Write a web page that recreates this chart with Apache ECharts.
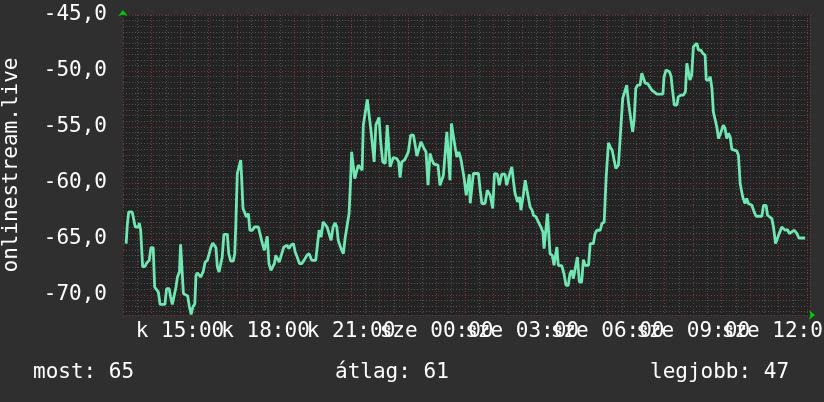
<!DOCTYPE html>
<html>
<head>
<meta charset="utf-8">
<script src="https://cdn.jsdelivr.net/npm/echarts@6/dist/echarts.min.js"></script>
<style>
html,body{margin:0;padding:0;background:#2f2f2f;}
#c{width:824px;height:402px;}
</style>
</head>
<body>
<div id="c"></div>
<script>
// time in hours since midnight of day "k"
var hours = [13.11,13.15,13.20,13.32,13.36,13.43,13.54,13.57,13.62,13.69,13.77,13.83,13.92,13.98,14.06,14.11,14.18,14.24,14.30,14.47,14.53,14.62,14.67,14.73,14.80,14.86,14.91,14.98,15.02,15.09,15.12,15.19,15.27,15.33,15.39,15.45,15.52,15.56,15.61,15.68,15.73,15.82,15.88,15.96,16.03,16.08,16.15,16.20,16.26,16.31,16.37,16.44,16.48,16.54,16.66,16.71,16.78,16.87,16.92,16.96,17.01,17.07,17.13,17.16,17.21,17.28,17.33,17.40,17.45,17.54,17.61,17.75,17.82,17.89,17.96,18.01,18.06,18.12,18.19,18.25,18.31,18.36,18.43,18.48,18.57,18.64,18.71,18.76,18.82,18.89,18.98,19.04,19.11,19.19,19.27,19.35,19.45,19.53,19.57,19.62,19.76,19.82,19.88,19.95,20.02,20.09,20.16,20.23,20.30,20.37,20.44,20.50,20.55,20.65,20.73,20.79,20.86,20.93,20.98,21.02,21.08,21.13,21.20,21.25,21.32,21.39,21.43,21.50,21.57,21.62,21.69,21.75,21.81,21.87,21.92,21.98,22.04,22.11,22.20,22.27,22.33,22.37,22.44,22.48,22.60,22.67,22.72,22.78,22.89,23.01,23.09,23.19,23.25,23.31,23.38,23.45,23.52,23.56,23.63,23.70,23.77,23.84,23.91,24.05,24.12,24.19,24.24,24.31,24.36,24.43,24.47,24.52,24.59,24.65,24.71,24.78,24.85,24.92,24.96,25.04,25.11,25.15,25.18,25.29,25.47,25.53,25.59,25.70,25.78,25.88,25.97,26.03,26.13,26.20,26.29,26.40,26.46,26.55,26.64,26.70,26.75,26.84,26.91,26.96,27.05,27.11,27.16,27.22,27.28,27.35,27.40,27.49,27.57,27.66,27.73,27.77,27.84,27.89,27.95,27.98,28.06,28.12,28.22,28.27,28.39,28.47,28.54,28.62,28.68,28.74,28.80,28.87,28.94,29.01,29.09,29.15,29.21,29.33,29.39,29.50,29.56,29.62,29.74,29.80,29.88,29.95,30.03,30.09,30.16,30.23,30.29,30.38,30.44,30.47,30.53,30.60,30.67,30.73,30.81,30.88,30.93,30.99,31.05,31.14,31.20,31.26,31.32,31.40,31.47,31.55,31.73,31.94,31.98,32.05,32.17,32.23,32.27,32.34,32.43,32.48,32.57,32.66,32.73,32.78,32.85,32.89,32.95,33.01,33.07,33.13,33.19,33.27,33.34,33.42,33.46,33.54,33.60,33.66,33.71,33.77,33.83,33.89,33.96,34.06,34.12,34.18,34.24,34.30,34.36,34.41,34.53,34.59,34.65,34.74,34.82,34.88,34.94,35.06,35.14,35.21,35.41,35.47,35.56,35.61,35.68,35.76,35.82,35.89,35.96,36.02,36.11,36.17,36.23,36.31,36.38,36.46,36.55,36.64,36.71,36.93];
var values = [-65.42,-63.78,-62.59,-62.59,-63.04,-63.94,-63.94,-63.58,-64.23,-67.51,-67.45,-67.16,-66.92,-65.78,-65.78,-69.30,-69.39,-69.75,-70.85,-70.85,-69.45,-69.45,-70.20,-70.85,-70.70,-69.30,-68.41,-67.96,-65.48,-65.48,-69.89,-70.05,-70.10,-71.09,-71.75,-71.09,-70.79,-68.26,-68.05,-68.05,-68.41,-67.87,-67.07,-66.92,-66.26,-65.78,-65.37,-65.48,-65.78,-67.51,-67.96,-67.96,-66.62,-64.59,-64.59,-66.32,-66.98,-66.98,-66.32,-63.58,-59.16,-59.02,-57.97,-59.46,-62.29,-62.38,-63.04,-62.74,-64.23,-64.23,-63.94,-63.94,-64.68,-65.42,-66.02,-66.10,-64.77,-67.21,-67.81,-67.96,-67.21,-66.47,-66.62,-67.07,-66.32,-65.73,-65.73,-65.57,-65.87,-65.57,-65.42,-66.17,-66.62,-67.21,-67.21,-66.92,-66.47,-66.32,-66.17,-66.92,-66.92,-65.57,-64.23,-64.83,-63.49,-63.34,-63.94,-63.78,-65.13,-63.94,-63.58,-63.94,-65.13,-65.87,-66.32,-64.97,-64.97,-62.74,-60.05,-57.23,-57.08,-59.61,-59.46,-58.42,-58.42,-58.86,-54.84,-54.69,-52.54,-53.65,-55.13,-55.23,-58.12,-54.84,-54.84,-54.15,-56.33,-58.12,-58.27,-54.84,-54.84,-58.57,-58.57,-57.73,-57.82,-58.12,-59.52,-58.12,-57.91,-57.23,-55.73,-55.73,-56.63,-57.61,-57.61,-56.33,-56.33,-56.92,-57.23,-60.21,-57.37,-57.97,-58.33,-58.42,-60.21,-60.05,-59.31,-59.31,-55.44,-55.44,-59.76,-54.69,-54.69,-56.78,-57.68,-57.23,-57.82,-57.82,-59.46,-61.10,-61.10,-59.22,-61.82,-59.16,-59.16,-60.65,-61.84,-61.84,-60.65,-61.10,-62.29,-59.16,-59.22,-60.21,-59.22,-59.22,-60.21,-59.31,-58.57,-59.91,-60.90,-61.70,-61.25,-62.44,-60.95,-59.76,-60.50,-60.65,-62.15,-62.44,-62.89,-63.04,-63.49,-63.94,-64.38,-65.87,-65.87,-62.74,-62.74,-66.32,-66.47,-67.36,-65.73,-67.36,-67.40,-68.11,-69.15,-69.15,-68.11,-67.81,-68.55,-68.55,-66.62,-68.86,-68.86,-66.85,-67.36,-67.36,-65.42,-65.42,-64.53,-64.23,-64.23,-63.63,-63.49,-59.46,-56.42,-56.78,-57.08,-57.97,-58.71,-58.42,-58.42,-54.84,-52.45,-52.45,-51.26,-52.76,-54.24,-55.44,-54.39,-51.56,-51.26,-51.26,-50.21,-50.21,-51.11,-51.11,-50.97,-51.71,-52.07,-52.07,-50.52,-49.92,-50.07,-50.52,-51.56,-53.05,-53.05,-52.31,-52.16,-52.16,-51.86,-49.32,-49.32,-50.81,-50.37,-47.84,-47.84,-47.53,-48.13,-48.13,-48.43,-48.58,-50.81,-50.81,-50.52,-51.56,-53.65,-53.79,-54.99,-56.03,-55.58,-54.84,-55.13,-56.03,-55.58,-55.89,-57.01,-57.14,-57.14,-57.52,-60.05,-61.25,-61.84,-61.40,-61.84,-62.00,-62.59,-62.98,-62.98,-62.00,-62.00,-62.89,-62.74,-63.19,-63.94,-65.42,-65.42,-64.53,-63.94,-63.94,-64.23,-64.17,-64.53,-64.38,-64.23,-64.53,-64.92,-64.92];

var xTickHours = [15, 18, 21, 24, 27, 30, 33, 36];
var xTickLabels = ['k 15:00', 'k 18:00', 'k 21:00', 'sze 00:00', 'sze 03:00', 'sze 06:00', 'sze 09:00', 'sze 12:00'];
var yTickValues = [-70, -65, -60, -55, -50, -45];
var yTickLabels = ['-70,0', '-65,0', '-60,0', '-55,0', '-50,0', '-45,0'];
var yAxisTitle = 'onlinestream.live';
var summaryLabels = ['most: 65', 'átlag: 61', 'legjobb: 47'];

var FONT = '"DejaVu Sans Mono", "Liberation Mono", monospace';
var majorGrid = { color: '#7a3535', width: 1, type: [1, 2] };
var minorGrid = { color: '#505050', width: 1, type: [1, 2] };

var seriesData = hours.map(function (h, i) { return [h, values[i]]; });

var chart = echarts.init(document.getElementById('c'), null, { renderer: 'canvas' });
chart.setOption({
  backgroundColor: '#2f2f2f',
  animation: false,
  grid: { left: 123, right: 14, top: 15, bottom: 87, show: true, backgroundColor: '#232323', borderWidth: 0, containLabel: false, outerBoundsMode: 'none' },
  xAxis: {
    type: 'value', min: 13, max: 37.1, interval: 1,
    axisLine: { show: true, symbol: ['none', 'arrow'], symbolSize: [7, 6], symbolOffset: [0, 5], lineStyle: { color: '#00cc00', width: 0 } },
    axisTick: { show: false },
    minorTick: { show: false, splitNumber: 2 },
    splitLine: { show: true, lineStyle: majorGrid },
    minorSplitLine: { show: true, lineStyle: minorGrid },
    axisLabel: {
      show: true, margin: 6, color: '#ffffff', fontFamily: FONT, fontSize: 21,
      showMinLabel: true, showMaxLabel: true, hideOverlap: false,
      formatter: function (v) {
        var i = xTickHours.indexOf(Math.round(v * 100) / 100);
        return i >= 0 ? xTickLabels[i] : '';
      }
    }
  },
  yAxis: {
    type: 'value', min: -71.8, max: -45, splitNumber: 5,
    name: yAxisTitle, nameLocation: 'middle', nameGap: 101,
    nameTextStyle: { color: '#ffffff', fontFamily: FONT, fontSize: 21 },
    axisLine: { show: true, symbol: ['none', 'arrow'], symbolSize: [7, 6], symbolOffset: [0, 5], lineStyle: { color: '#00cc00', width: 0 } },
    axisTick: { show: false },
    minorTick: { show: false, splitNumber: 10 },
    splitLine: { show: true, lineStyle: majorGrid },
    minorSplitLine: { show: true, lineStyle: minorGrid },
    axisLabel: {
      show: true, margin: 16, color: '#ffffff', fontFamily: FONT, fontSize: 21,
      formatter: function (v) {
        var i = yTickValues.indexOf(Math.round(v * 100) / 100);
        return i >= 0 ? yTickLabels[i] : '';
      }
    }
  },
  series: [{
    type: 'line', data: seriesData, showSymbol: false, smooth: false,
    lineStyle: { color: '#70e6b2', width: 2.8 },
    z: 5
  }],
  graphic: [
    { type: 'text', left: 33, top: 362, style: { text: summaryLabels[0], fill: '#ffffff', font: '21px ' + FONT } },
    { type: 'text', left: 335, top: 362, style: { text: summaryLabels[1], fill: '#ffffff', font: '21px ' + FONT } },
    { type: 'text', left: 650, top: 362, style: { text: summaryLabels[2], fill: '#ffffff', font: '21px ' + FONT } }
  ]
});
</script>
</body>
</html>
